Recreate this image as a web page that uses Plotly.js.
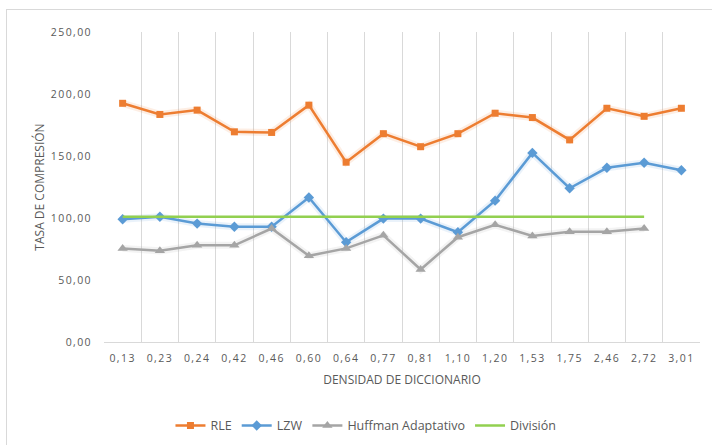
<!DOCTYPE html>
<html>
<head>
<meta charset="utf-8">
<script src="https://cdn.plot.ly/plotly-3.0.1.min.js"></script>
<style>
  html, body { margin: 0; padding: 0; background: #ffffff; }
  #wrap { position: relative; width: 712px; height: 445px; overflow: hidden; }
  #frame { position: absolute; left: 6px; top: 9px; width: 720px; height: 450px;
           border: 1px solid #d9d9d9; box-sizing: border-box; }
  #chart { position: absolute; left: 0; top: 0; width: 712px; height: 445px; }
  /* spaced-out tick numbers */
  #chart .xtick text, #chart .ytick text { letter-spacing: 1.4px; }
</style>
</head>
<body>
<div id="wrap">
  <div id="frame"></div>
  <div id="chart"></div>
</div>
<script>
// Densidad de diccionario (eje de categorías)
const densidades = ["0,13", "0,23", "0,24", "0,42", "0,46", "0,60", "0,64", "0,77",
                    "0,81", "1,10", "1,20", "1,53", "1,75", "2,46", "2,72", "3,01"];

// Tasa de compresión por algoritmo
const rle     = [192.5, 183.5, 187, 169.5, 169, 191, 145, 168, 157.5, 168, 184.5, 181, 163, 188.5, 182, 188.5];
const lzw     = [99, 101, 95.5, 93, 93, 116.5, 80.5, 99.5, 99.5, 88.5, 114, 152.5, 124, 140.5, 144.5, 138.5];
const huffman = [75.5, 73.5, 78, 78, 91.5, 69.5, 75.5, 86, 58.5, 84.5, 94.5, 85.5, 89, 89, 91.5];
const division = [101, 101, 101, 101, 101, 101, 101, 101, 101, 101, 101, 101, 101, 101, 101];

const COLORS = { rle: "#ED7D31", lzw: "#5B9BD5", huff: "#A5A5A5", div: "#92D050" };

// Soft halo drawn beneath each series line
function halo(y, color) {
  return {
    x: densidades.slice(0, y.length), y: y, type: "scatter", mode: "lines",
    line: { color: color, width: 7 }, opacity: 0.13,
    showlegend: false, hoverinfo: "skip"
  };
}

const traces = [
  halo(rle, COLORS.rle),
  halo(lzw, COLORS.lzw),
  halo(huffman, COLORS.huff),
  {
    x: densidades, y: rle, name: "RLE", type: "scatter", mode: "lines+markers",
    line: { color: COLORS.rle, width: 2.5 },
    marker: { symbol: "square", size: 7, color: COLORS.rle }
  },
  {
    x: densidades, y: lzw, name: "LZW", type: "scatter", mode: "lines+markers",
    line: { color: COLORS.lzw, width: 2.5 },
    marker: { symbol: "diamond", size: 8, color: COLORS.lzw }
  },
  {
    x: densidades.slice(0, huffman.length), y: huffman, name: "Huffman Adaptativo",
    type: "scatter", mode: "lines+markers",
    line: { color: COLORS.huff, width: 2.5 },
    marker: { symbol: "triangle-up", size: 9, color: COLORS.huff }
  },
  {
    x: densidades.slice(0, division.length), y: division, name: "División",
    type: "scatter", mode: "lines",
    line: { color: COLORS.div, width: 2.5 }
  }
];

const FAMILY = "Open Sans, Liberation Sans, sans-serif";
const axisFont = { family: FAMILY, size: 10.5, color: "#595959" };
const titleFont = { family: FAMILY, size: 12, color: "#595959" };

const layout = {
  width: 712, height: 445,
  margin: { l: 104, r: 12, t: 32, b: 103, autoexpand: false },
  paper_bgcolor: "rgba(0,0,0,0)",
  plot_bgcolor: "rgba(0,0,0,0)",
  separators: ",.",
  showlegend: true,
  legend: {
    orientation: "h",
    xref: "container", yref: "container",
    x: 0.514, xanchor: "center", y: 0.043, yanchor: "middle",
    font: { family: FAMILY, size: 12.5, color: "#595959" },
    itemwidth: 30, traceorder: "normal"
  },
  xaxis: {
    type: "category",
    range: [-0.5, densidades.length - 0.5],
    tickson: "boundaries",
    automargin: false,
    showgrid: true, gridcolor: "#d9d9d9", gridwidth: 1,
    showline: true, linecolor: "#d9d9d9", linewidth: 1,
    ticks: "", tickfont: axisFont,
    ticklabelstandoff: 6,
    title: { text: "DENSIDAD DE DICCIONARIO", font: titleFont, standoff: 12 },
    fixedrange: true
  },
  yaxis: {
    range: [0, 250],
    tickvals: [0, 50, 100, 150, 200, 250],
    tickformat: ".2f",
    automargin: false,
    showgrid: false, zeroline: false, showline: false,
    ticks: "", tickfont: axisFont,
    ticklabelstandoff: 11,
    title: { text: "TASA DE COMPRESIÓN", font: titleFont, standoff: 12 },
    fixedrange: true
  },
  font: { family: FAMILY, color: "#595959" }
};

Plotly.newPlot("chart", traces, layout, { displayModeBar: false, staticPlot: true });
</script>
</body>
</html>
